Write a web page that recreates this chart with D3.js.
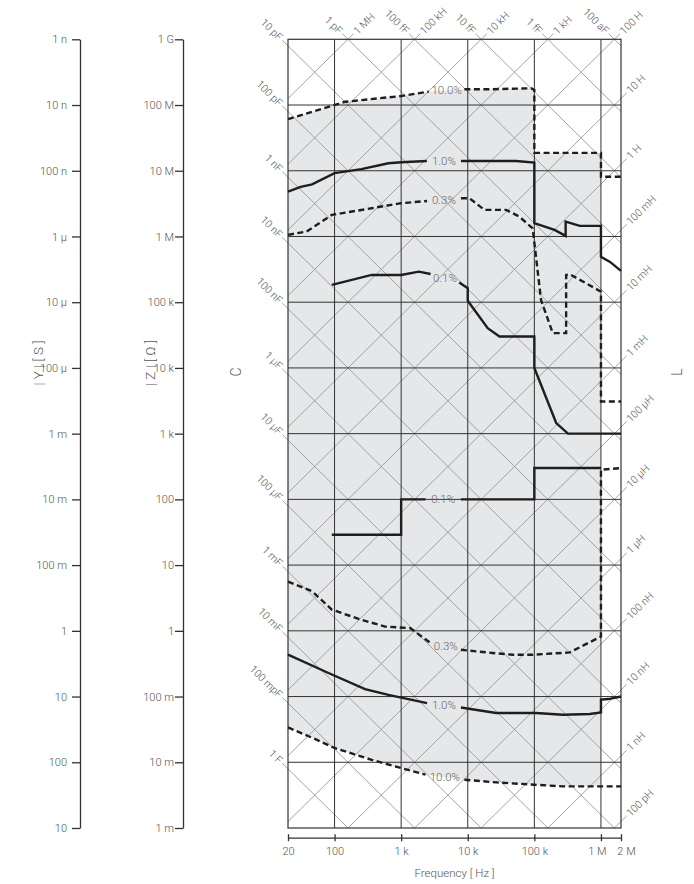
<!DOCTYPE html>
<html>
<head>
<meta charset="utf-8">
<script src="https://cdn.jsdelivr.net/npm/d3@7"></script>
<style>
  body { margin: 0; background: #fff; }
  svg { opacity: 0.999; }
  svg text { font-family: Roboto, "Liberation Sans", sans-serif; font-weight: 300; fill: #555; }
</style>
</head>
<body>
<div id="chart"></div>
<script>
// frequency axis
const freqTicks = [20, 100, 1e3, 1e4, 1e5, 1e6, 2e6];
const freqTickLabels = ["20", "100", "1 k", "10 k", "100 k", "1 M", "2 M"];
const freqGrid = [100, 1e3, 1e4, 1e5, 1e6];

// |Z| in ohm, |Y| in siemens
const zTicks = [1e9, 1e8, 1e7, 1e6, 1e5, 1e4, 1e3, 1e2, 1e1, 1, 1e-1, 1e-2, 1e-3];
const zTickLabels = ["1 G", "100 M", "10 M", "1 M", "100 k", "10 k", "1 k", "100", "10", "1", "100 m", "10 m", "1 m"];
const yTicks = [1e-9, 1e-8, 1e-7, 1e-6, 1e-5, 1e-4, 1e-3, 1e-2, 1e-1, 1, 1e1, 1e2, 1e3];
const yTickLabels = ["1 n", "10 n", "100 n", "1 µ", "10 µ", "100 µ", "1 m", "10 m", "100 m", "1", "10", "100", "10"];

// constant C and constant L lines
const capValues = [1e-16, 1e-15, 1e-14, 1e-13, 1e-12, 1e-11, 1e-10, 1e-9, 1e-8, 1e-7, 1e-6, 1e-5, 1e-4, 1e-3, 1e-2, 1e-1, 1];
const capLabels = ["100 aF", "1 fF", "10 fF", "100 fF", "1 pF", "10 pF", "100 pF", "1 nF", "10 nF", "100 nF", "1 µF", "10 µF", "100 µF", "1 mF", "10 mF", "100 mpF", "1 F"];
const indValues = [1e-10, 1e-9, 1e-8, 1e-7, 1e-6, 1e-5, 1e-4, 1e-3, 1e-2, 1e-1, 1, 10, 100, 1e3, 1e4, 1e5, 1e6];
const indLabels = ["100 pH", "1 nH", "10 nH", "100 nH", "1 µH", "10 µH", "100 µH", "1 mH", "10 mH", "100 mH", "1 H", "10 H", "100 H", "1 kH", "10 kH", "100 kH", "1 MH"];

// accuracy contours [f (Hz), |Z| (ohm)], null = gap for label
const upper10 = [[20, 6.1e7], [143, 1.12e8], [1000, 1.37e8], [2600, 1.6e8], null, [8900, 1.74e8], [23400, 1.74e8], [89300, 1.8e8], [1e5, 1.69e8], [1e5, 1.87e7], [1e6, 1.87e7], [1e6, 8.1e6], [2e6, 8.1e6]];
const upper1 = [[20, 4.8e6], [31, 5.7e6], [46, 6.2e6], [100, 9.2e6], [253, 1.06e7], [644, 1.3e7], [1000, 1.35e7], [2430, 1.41e7], null, [7900, 1.41e7], [53200, 1.41e7], [1e5, 1.33e7], [1e5, 1.59e6], [201000, 1.26e6], [295000, 1.02e6], [295000, 1.68e6], [481000, 1.45e6], [1e6, 1.45e6], [1e6, 4.9e5], [1.37e6, 4.1e5], [2e6, 3.0e5]];
const upper03 = [[20, 1.06e6], [38, 1.19e6], [91, 2.13e6], [361, 2.69e6], [1000, 3.21e6], [2450, 3.47e6], null, [7900, 3.82e6], [10600, 3.82e6], [17800, 2.54e6], [37700, 2.54e6], [59600, 2.0e6], [94400, 1.33e6], [126000, 1.08e5], [189000, 3.38e4], [300000, 3.38e4], [300000, 2.6e5], [339000, 2.67e5], [1e6, 1.45e5], [1e6, 3080], [2e6, 3080]];
const upper01 = [[91, 1.83e5], [361, 2.6e5], [1000, 2.6e5], [1840, 2.92e5], [2770, 2.69e5], null, [7460, 1.99e5], [1e4, 1.63e5], [1e4, 1.05e5], [19950, 4.02e4], [29900, 3.0e4], [1e5, 3.0e4], [1e5, 1e4], [213000, 1450], [320000, 1000], [2e6, 1000]];
const lower01 = [[91, 29], [1000, 29], [1000, 100], [2320, 100], null, [7900, 100], [1e5, 100], [1e5, 300], [1e6, 300]];
const lower03 = [[20, 5.6], [46, 4.0], [91, 2.1], [254, 1.47], [574, 1.16], [1370, 1.1], [2770, 0.65], null, [7900, 0.515], [23500, 0.46], [47300, 0.433], [94400, 0.433], [339000, 0.469], [1e6, 0.82], [1e6, 282], [2e6, 300]];
const lower1 = [[20, 0.433], [81, 0.228], [287, 0.13], [644, 0.106], [2450, 0.0796], null, [7900, 0.0682], [26700, 0.0561], [106000, 0.0561], [268000, 0.0529], [681000, 0.0542], [1e6, 0.0573], [1e6, 0.09], [1.29e6, 0.0916], [2e6, 0.1]];
const lower10 = [[20, 0.0339], [47, 0.0234], [100, 0.0165], [361, 0.0109], [1000, 0.00818], [2320, 0.00647], null, [8900, 0.00543], [26700, 0.00494], [1e5, 0.00456], [268000, 0.0043], [2e6, 0.0043]];

const curves = [upper10, upper1, upper03, upper01, lower01, lower03, lower1, lower10];
const curveLabels = ["10.0%", "1.0%", "0.3%", "0.1%", "0.1%", "0.3%", "1.0%", "10.0%"];
const curveDashed = [true, false, true, false, false, true, false, true];

const width = 694, height = 884;
const fillColor = "#e6e7e9";

const svg = d3.select("#chart").append("svg")
  .attr("width", width)
  .attr("height", height);

const x = d3.scaleLog().domain([20, 2e6]).range([288, 621]);
const y = d3.scaleLog().domain([1e-3, 1e9]).range([828, 39.3]);
const yAdm = d3.scaleLog().domain([1e-9, 1e3]).range([39.3, 828]);

const plotL = x(20), plotR = x(2e6), plotT = y(1e9), plotB = y(1e-3);

// shaded region inside the 10% limits, up to 1 MHz
function zAt(curve, f) {
  const pts = curve.filter(d => d);
  for (let i = 1; i < pts.length; i++) {
    const a = pts[i - 1], b = pts[i];
    if (f >= a[0] && f <= b[0] && b[0] > a[0]) {
      const t = (Math.log(f) - Math.log(a[0])) / (Math.log(b[0]) - Math.log(a[0]));
      return Math.exp(Math.log(a[1]) + t * (Math.log(b[1]) - Math.log(a[1])));
    }
  }
  return pts[pts.length - 1][1];
}
const topEdge = upper10.filter(d => d && d[0] <= 1e6);
const bottomEdge = lower10.filter(d => d && d[0] < 1e6);
const region = topEdge.concat([[1e6, zAt(lower10, 1e6)]], bottomEdge.reverse());

svg.append("path")
  .attr("d", d3.line().x(d => x(d[0])).y(d => y(d[1]))(region) + "Z")
  .attr("fill", fillColor);

// diagonal C / L lines
const diag = svg.append("g");
const ext = 8;
capValues.forEach(function (c, i) {
  let f0 = 20, z0 = 1 / (2 * Math.PI * f0 * c);
  if (z0 > 1e9) { z0 = 1e9; f0 = 1 / (2 * Math.PI * z0 * c); }
  let f1 = 2e6, z1 = 1 / (2 * Math.PI * f1 * c);
  if (z1 < 1e-3) { z1 = 1e-3; f1 = 1 / (2 * Math.PI * z1 * c); }
  const x0 = x(f0), y0 = y(z0), x1 = x(f1), y1 = y(z1);
  const len = Math.hypot(x1 - x0, y1 - y0);
  const ux = (x1 - x0) / len, uy = (y1 - y0) / len;
  diag.append("line")
    .attr("x1", x0 - ux * ext).attr("y1", y0 - uy * ext)
    .attr("x2", x1).attr("y2", y1)
    .attr("stroke", "#9a9a9a").attr("stroke-width", 0.9);
  const ang = Math.atan2(uy, ux) * 180 / Math.PI;
  diag.append("text")
    .attr("transform", "translate(" + (x0 - ux * (ext + 2)) + "," + (y0 - uy * (ext + 2)) + ")rotate(" + ang + ")")
    .attr("text-anchor", "end")
    .attr("dy", "0.35em")
    .style("font-size", "10.5px")
    .text(capLabels[i]);
});
indValues.forEach(function (l, i) {
  let f0 = 20, z0 = 2 * Math.PI * f0 * l;
  if (z0 < 1e-3) { z0 = 1e-3; f0 = z0 / (2 * Math.PI * l); }
  let f1 = 2e6, z1 = 2 * Math.PI * f1 * l;
  if (z1 > 1e9) { z1 = 1e9; f1 = z1 / (2 * Math.PI * l); }
  const x0 = x(f0), y0 = y(z0), x1 = x(f1), y1 = y(z1);
  const len = Math.hypot(x1 - x0, y1 - y0);
  const ux = (x1 - x0) / len, uy = (y1 - y0) / len;
  diag.append("line")
    .attr("x1", x0).attr("y1", y0)
    .attr("x2", x1 + ux * ext).attr("y2", y1 + uy * ext)
    .attr("stroke", "#9a9a9a").attr("stroke-width", 0.9);
  const ang = Math.atan2(uy, ux) * 180 / Math.PI;
  diag.append("text")
    .attr("transform", "translate(" + (x1 + ux * (ext + 2)) + "," + (y1 + uy * (ext + 2)) + ")rotate(" + ang + ")")
    .attr("text-anchor", "start")
    .attr("dy", "0.35em")
    .style("font-size", "10.5px")
    .text(indLabels[i]);
});

// grid
const grid = svg.append("g").attr("stroke", "#333").attr("stroke-width", 1);
grid.selectAll(".v").data(freqGrid).enter().append("line")
  .attr("x1", d => x(d)).attr("x2", d => x(d))
  .attr("y1", plotT).attr("y2", plotB);
grid.selectAll(".h").data(zTicks.slice(1, -1)).enter().append("line")
  .attr("x1", plotL).attr("x2", plotR)
  .attr("y1", d => y(d)).attr("y2", d => y(d));
svg.append("rect")
  .attr("x", plotL).attr("y", plotT)
  .attr("width", plotR - plotL).attr("height", plotB - plotT)
  .attr("fill", "none").attr("stroke", "#333").attr("stroke-width", 1.2);

// accuracy contours
const line = d3.line()
  .defined(d => d !== null)
  .x(d => x(d[0]))
  .y(d => y(d[1]));
curves.forEach(function (c, i) {
  svg.append("path")
    .attr("d", line(c))
    .attr("fill", "none")
    .attr("stroke", "#1e1e1e")
    .attr("stroke-width", 2.4)
    .attr("stroke-dasharray", curveDashed[i] ? "6,3.5" : null);
  const g = c.indexOf(null);
  const a = c[g - 1], b = c[g + 1];
  const lf = Math.sqrt(a[0] * b[0]), lz = Math.sqrt(a[1] * b[1]);
  svg.append("text")
    .attr("x", x(lf)).attr("y", y(lz))
    .attr("dy", "0.35em")
    .attr("text-anchor", "middle")
    .style("font-size", "11.5px")
    .style("fill", "#666")
    .text(curveLabels[i]);
});

// axes
function styleAxis(g) {
  g.attr("font-family", null).attr("font-size", null);
  g.select(".domain").attr("stroke", "#333").attr("stroke-width", 1.3);
  g.selectAll(".tick line").attr("stroke", "#333").attr("stroke-width", 1.3);
  g.selectAll(".tick text").style("font-size", "11px").style("fill", "#555");
}

svg.append("g")
  .attr("transform", "translate(80,0)")
  .call(d3.axisLeft(yAdm).tickValues(yTicks).tickFormat((d, i) => yTickLabels[i])
    .tickSize(8).tickPadding(5).tickSizeOuter(0))
  .call(styleAxis);

svg.append("g")
  .attr("transform", "translate(183,0)")
  .call(d3.axisLeft(y).tickValues(zTicks).tickFormat((d, i) => zTickLabels[i])
    .tickSize(8).tickPadding(1).tickSizeOuter(0))
  .call(styleAxis);

const xAxis = svg.append("g")
  .attr("transform", "translate(0,837.7)")
  .call(d3.axisBottom(x).tickValues(freqTicks).tickFormat((d, i) => freqTickLabels[i])
    .tickSize(3.5).tickPadding(6).tickSizeOuter(0))
  .call(styleAxis);
xAxis.selectAll(".tick line").attr("y1", -3.5);
// the last two labels sit close together; push them apart a little
xAxis.selectAll(".tick text").attr("dx", (d, i) => i === 5 ? -4 : i === 6 ? 5 : 0);

// titles
svg.append("text")
  .attr("transform", "translate(38,363)rotate(-90)")
  .attr("text-anchor", "middle").attr("dy", "0.35em")
  .style("font-size", "13.5px")
  .text("| Y | [ S ]");
svg.append("text")
  .attr("transform", "translate(150,363)rotate(-90)")
  .attr("text-anchor", "middle").attr("dy", "0.35em")
  .style("font-size", "13.5px")
  .text("| Z | [ Ω ]");
svg.append("text")
  .attr("transform", "translate(236,372)rotate(-90)")
  .attr("text-anchor", "middle").attr("dy", "0.35em")
  .style("font-size", "14px")
  .text("C");
svg.append("text")
  .attr("transform", "translate(677,372)rotate(-90)")
  .attr("text-anchor", "middle").attr("dy", "0.35em")
  .style("font-size", "14px")
  .text("L");
svg.append("text")
  .attr("x", (plotL + plotR) / 2).attr("y", 877)
  .attr("text-anchor", "middle")
  .style("font-size", "11.5px")
  .text("Frequency [ Hz ]");
</script>
</body>
</html>
